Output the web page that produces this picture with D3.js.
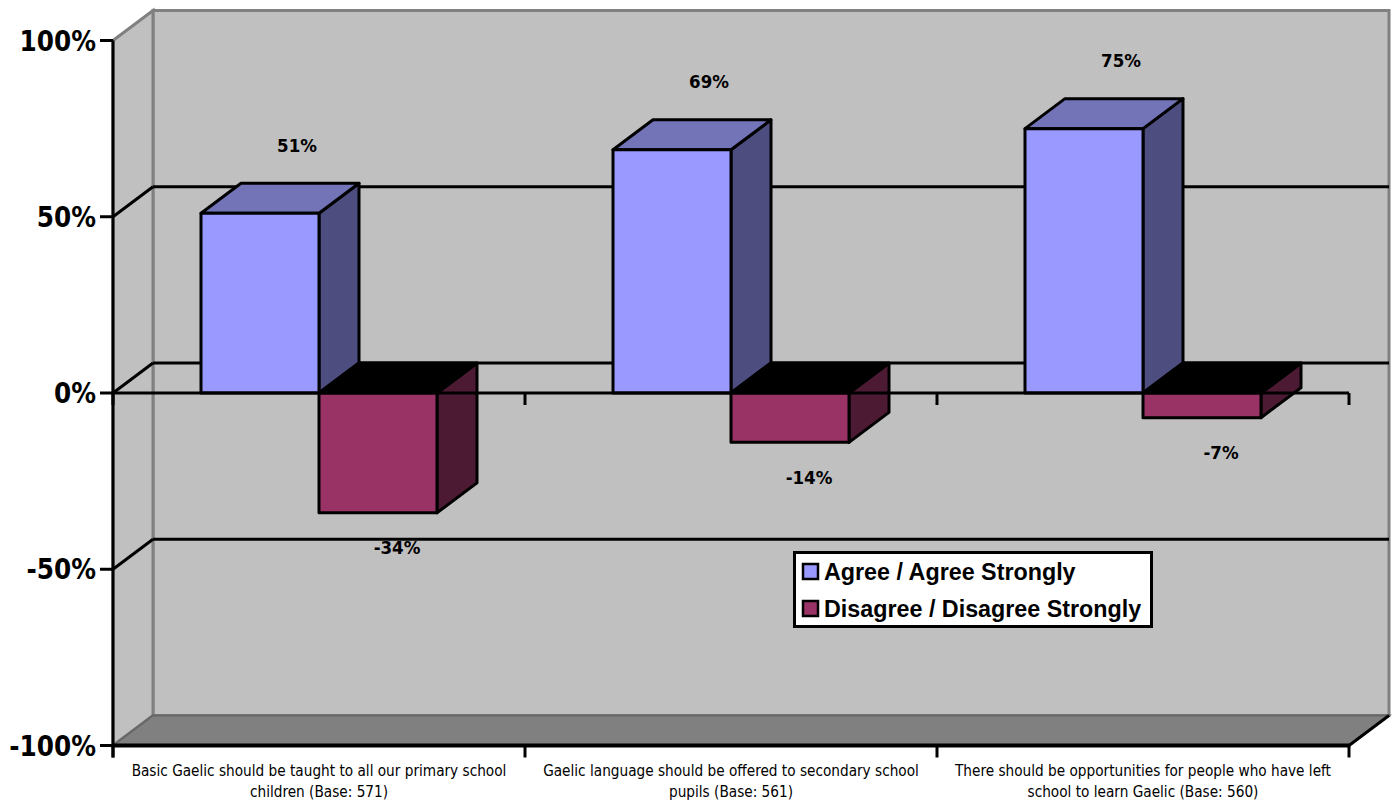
<!DOCTYPE html>
<html>
<head>
<meta charset="utf-8">
<script src="https://cdn.jsdelivr.net/npm/d3@7"></script>
<style>
html,body{margin:0;padding:0;background:#fff;}
svg{display:block;}
</style>
</head>
<body>
<svg id="chart" width="1398" height="800"></svg>
<script>
// Survey results, in percent
const categories = [
  ["Basic Gaelic should be taught to all our primary school", "children (Base: 571)"],
  ["Gaelic language should be offered to secondary school", "pupils (Base: 561)"],
  ["There should be opportunities for people who have left", "school to learn Gaelic (Base: 560)"]
];
const seriesNames = ["Agree / Agree Strongly", "Disagree / Disagree Strongly"];
const agree = [51, 69, 75];
const disagree = [-34, -14, -7];
const yTicks = [100, 50, 0, -50, -100];

const faces = {
  agree: {front: "#9999ff", top: "#7373b8", side: "#4d4d7f"},
  disagree: {front: "#993366", top: "#000000", side: "#4d1a33"}
};

const depth = {dx: 40, dy: -30};
const y = d3.scaleLinear().domain([-100, 100]).range([745.5, 40.5]);
const x0 = d3.scaleBand().domain(d3.range(categories.length)).range([113, 1349]);
const x1 = d3.scaleBand().domain([0, 1]).range([88, 324]);

const svg = d3.select("#chart");
const toPoints = pts => pts.map(p => p.join(",")).join(" ");
const poly = (pts, fill) => svg.append("polygon")
  .attr("points", toPoints(pts))
  .attr("fill", fill).attr("stroke", "#000").attr("stroke-width", 3).attr("stroke-linejoin", "round");
const plain = (pts, fill, stroke, w = 3) => svg.append("polygon")
  .attr("points", toPoints(pts))
  .attr("fill", fill).attr("stroke", stroke).attr("stroke-width", w);

const L = 113, R = 1349, T = y(100), B = y(-100), Z = y(0);
const bx = depth.dx, by = depth.dy;

// Walls and floor of the 3D box
plain([[L + bx, T + by], [R + bx, T + by], [R + bx, B + by], [L + bx, B + by]], "#c0c0c0", "#808080");
plain([[L, T], [L + bx, T + by], [L + bx, B + by], [L, B]], "#c0c0c0", "#808080");
plain([[L, B], [L + bx, B + by], [R + bx, B + by], [R, B]], "#808080", "#666", 2);

// Gridlines on the side wall and back wall
const rule = (xa, ya, xb, yb, w = 3) => svg.append("line")
  .attr("x1", xa).attr("y1", ya).attr("x2", xb).attr("y2", yb)
  .attr("stroke", "#000").attr("stroke-width", w);
yTicks.filter(v => v !== 100 && v !== -100).forEach(v => {
  rule(L, y(v), L + bx, y(v) + by);
  rule(L + bx, y(v) + by, R + bx, y(v) + by);
});

// Axes
rule(L, T, L, B + 12);
yTicks.forEach(v => rule(L - 13, y(v), L, y(v)));
rule(L, B, R, B, 4);
rule(R, B, R + bx, B + by, 3);
d3.range(categories.length + 1).forEach(i => {
  const tx = L + i * x0.step();
  rule(tx, Z, tx, Z + 12);
  rule(tx, B, tx, B + 12);
});

// Draws one extruded column between value 0 and value v
function column(xl, w, v, c) {
  const top = Math.min(y(v), Z), bot = Math.max(y(v), Z), xr = xl + w;
  poly([[xr, top], [xr + bx, top + by], [xr + bx, bot + by], [xr, bot]], c.side);
  poly([[xl, top], [xl + bx, top + by], [xr + bx, top + by], [xr, top]], c.top);
  poly([[xl, top], [xr, top], [xr, bot], [xl, bot]], c.front);
}
categories.forEach((_, i) => {
  column(x0(i) + x1(0), x1.bandwidth(), agree[i], faces.agree);
  column(x0(i) + x1(1), x1.bandwidth(), disagree[i], faces.disagree);
});

// The zero line runs in front of the columns
rule(L, Z, R, Z);

// Text
const labelFont = "'DejaVu Sans Condensed','DejaVu Sans',sans-serif";
const text = (tx, ty, s, size, weight, anchor = "middle") =>
  svg.append("text").attr("x", tx).attr("y", ty).text(s)
    .attr("font-family", labelFont).attr("font-size", size).attr("font-weight", weight)
    .attr("font-stretch", "condensed")
    .attr("text-anchor", anchor).attr("fill", "#000");

yTicks.forEach(v => text(96, y(v) + 10, v + "%", 27.5, "bold", "end"));

categories.forEach((lines, i) => {
  const cx = x0(i) + x0.bandwidth() / 2;
  lines.forEach((ln, k) => text(cx, 775.5 + k * 21, ln, 15.2, "normal"));
  const xa = x0(i) + x1(0) + x1.bandwidth() / 2;
  const xd = x0(i) + x1(1) + x1.bandwidth() / 2;
  text(xa + 37, y(agree[i]) - 61.5, agree[i] + "%", 18.5, "bold");
  text(xd + 19, y(disagree[i]) + 41.5, disagree[i] + "%", 18.5, "bold");
});

// Legend
const lg = svg.append("g");
lg.append("rect").attr("x", 794.5).attr("y", 552.5).attr("width", 357).attr("height", 74)
  .attr("fill", "#fff").attr("stroke", "#000").attr("stroke-width", 3);
[faces.agree.front, faces.disagree.front].forEach((col, i) => {
  const rowY = 564 + i * 37;
  lg.append("rect").attr("x", 803).attr("y", rowY).attr("width", 15).attr("height", 15)
    .attr("fill", col).attr("stroke", "#000").attr("stroke-width", 2.5);
  lg.append("text").attr("x", 824).attr("y", rowY + 16).text(seriesNames[i])
    .attr("font-family", "'Liberation Sans',Arial,sans-serif").attr("font-size", 23.3)
    .attr("font-weight", "bold").attr("fill", "#000");
});
</script>
</body>
</html>
